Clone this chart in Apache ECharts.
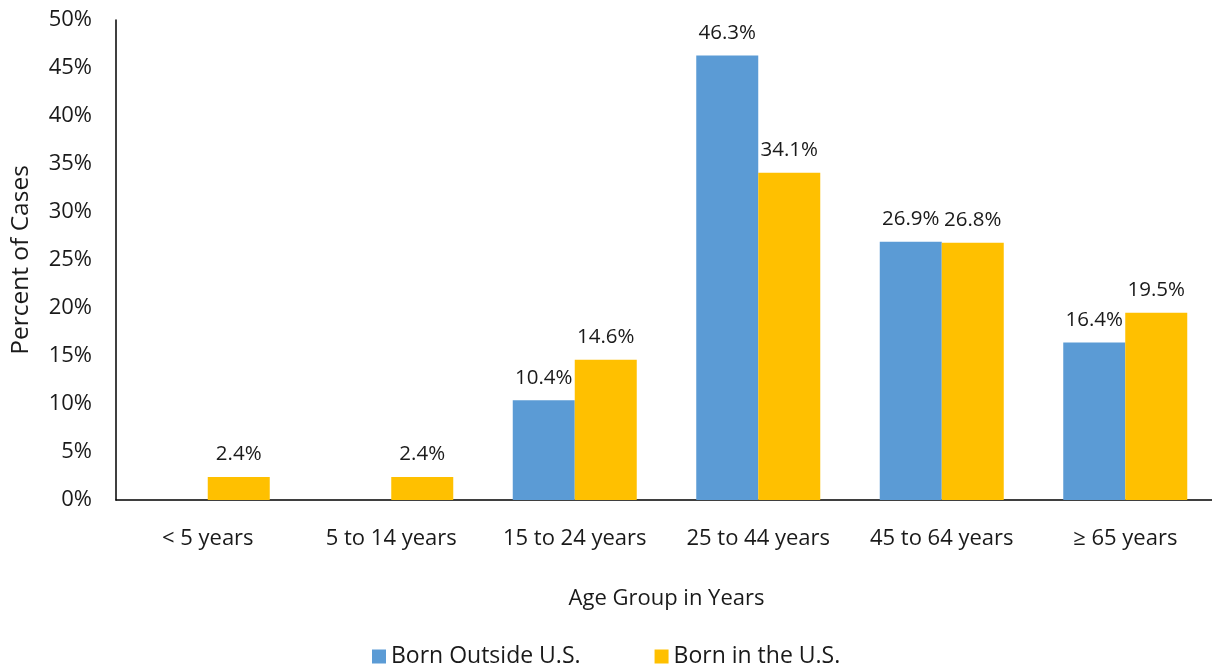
<!DOCTYPE html>
<html><head><meta charset="utf-8">
<script src="https://cdn.jsdelivr.net/npm/echarts@6/dist/echarts.min.js"></script>
<style>html,body{margin:0;padding:0;background:#fff;overflow:hidden}#c{width:1217px;height:671px}</style>
</head><body><div id="c"></div>
<script>
const categories = ['< 5 years', '5 to 14 years', '15 to 24 years', '25 to 44 years', '45 to 64 years', '≥ 65 years'];
const bornOutside = [null, null, 10.4, 46.3, 26.9, 16.4];
const bornInUS = [2.4, 2.4, 14.6, 34.1, 26.8, 19.5];
const seriesNames = ['Born Outside U.S.', 'Born in the U.S.'];
const font = '"Open Sans", "Noto Sans", sans-serif';
const chart = echarts.init(document.getElementById('c'));
const lbl = {show: true, position: 'top', distance: 12, fontSize: 20.5, color: '#1a1a1a', fontFamily: font, formatter: p => p.value.toFixed(1) + '%'};
chart.setOption({
  animation: false,
  textStyle: {fontFamily: font},
  legend: {bottom: -2, left: 367, itemWidth: 14, itemHeight: 14, itemGap: 74, icon: 'rect',
    textStyle: {fontSize: 23, color: '#1a1a1a', fontFamily: font}, data: seriesNames},
  grid: {left: 116, right: 0, top: 20, bottom: 171},
  xAxis: {type: 'category', data: categories,
    axisLine: {lineStyle: {color: '#000', width: 1.5}}, axisTick: {show: false},
    axisLabel: {fontSize: 22, color: '#1a1a1a', margin: 28, fontFamily: font, interval: 0},
    name: 'Age Group in Years', nameLocation: 'middle', nameGap: 88,
    nameTextStyle: {fontSize: 22, color: '#1a1a1a', fontFamily: font}},
  yAxis: {type: 'value', min: 0, max: 50, interval: 5,
    axisLine: {show: true, lineStyle: {color: '#000', width: 1.5}}, axisTick: {show: false},
    splitLine: {show: false},
    axisLabel: {fontSize: 22, color: '#1a1a1a', margin: 24, formatter: '{value}%', fontFamily: font},
    name: 'Percent of Cases', nameLocation: 'middle', nameGap: 82, nameRotate: 90,
    nameTextStyle: {fontSize: 24.5, color: '#1a1a1a', fontFamily: font}},
  series: [
    {name: seriesNames[0], type: 'bar', data: bornOutside, barWidth: 62, barGap: '0%',
      itemStyle: {color: '#5B9BD5'}, label: lbl},
    {name: seriesNames[1], type: 'bar', data: bornInUS, barWidth: 62, barGap: '0%',
      itemStyle: {color: '#FFC000'}, label: lbl}
  ]
});
</script></body></html>
